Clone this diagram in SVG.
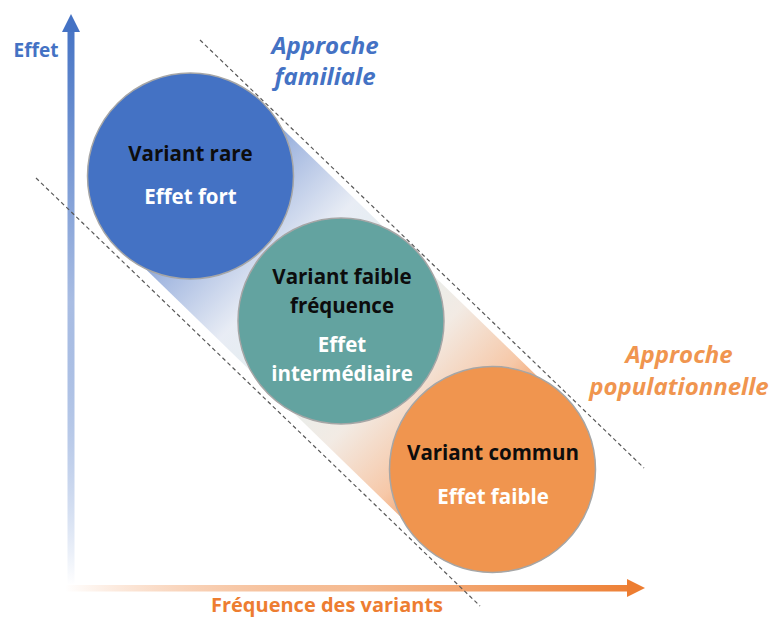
<svg xmlns="http://www.w3.org/2000/svg" width="773" height="621" viewBox="0 0 773 621">
<defs>
<linearGradient id="band" gradientUnits="userSpaceOnUse" x1="190.5" y1="176" x2="492" y2="469">
<stop offset="0" stop-color="#4472C4"/>
<stop offset="0.12" stop-color="#94ACDB"/>
<stop offset="0.32" stop-color="#E4E9F3"/>
<stop offset="0.5" stop-color="#DFECEB"/>
<stop offset="0.68" stop-color="#F0E7DF"/>
<stop offset="0.86" stop-color="#F5BE98"/>
<stop offset="1" stop-color="#ED7D31"/>
</linearGradient>
<linearGradient id="vaxis" gradientUnits="userSpaceOnUse" x1="0" y1="20" x2="0" y2="585">
<stop offset="0" stop-color="#4472C4"/>
<stop offset="0.5" stop-color="#A9BDE3"/>
<stop offset="1" stop-color="#4472C4" stop-opacity="0"/>
</linearGradient>
<linearGradient id="haxis" gradientUnits="userSpaceOnUse" x1="65" y1="0" x2="645" y2="0">
<stop offset="0" stop-color="#ED7D31" stop-opacity="0"/>
<stop offset="0.5" stop-color="#F5BB92"/>
<stop offset="1" stop-color="#ED7D31"/>
</linearGradient>
<style>
.circ{stroke:#A6A6A6;stroke-width:1.5}
.t{font-family:"Open Sans","Liberation Sans",sans-serif;font-weight:bold;text-anchor:middle}
.dark{fill:#0D0D0D;font-size:20.5px}
.light{fill:#FFFFFF;font-size:20.5px}
.lab{font-family:"Open Sans","Liberation Sans",sans-serif;font-weight:bold;font-style:italic;text-anchor:middle;font-size:24px}
.dash{stroke:#595959;stroke-width:1.2;stroke-dasharray:4 3;fill:none}
</style>
</defs>
<rect width="773" height="621" fill="#FFFFFF"/>
<g id="band-fill">
<polygon points="258.8,105.7 560.3,398.7 423.7,539.3 122.2,246.3" fill="url(#band)" opacity="0.85"/>
</g>
<g id="axes">
<rect x="67.5" y="30" width="7" height="555" fill="url(#vaxis)"/>
<polygon points="71,14 80,32 62,32" fill="#4472C4"/>
<rect x="65" y="585" width="564" height="6.5" fill="url(#haxis)"/>
<polygon points="645,588 627,579 627,597" fill="#ED7D31"/>
<text class="t" x="36" y="57" fill="#4472C4" font-size="19">Effet</text>
<text class="t" x="327" y="612" fill="#ED7D31" font-size="20">Fréquence des variants</text>
</g>
<g id="connectors">
<line class="dash" x1="200" y1="40" x2="644" y2="468"/>
<line class="dash" x1="36" y1="178" x2="480" y2="606"/>
</g>
<g id="label-familiale">
<text class="lab" x="325" y="54" fill="#4472C4">Approche</text>
<text class="lab" x="325" y="85" fill="#4472C4">familiale</text>
</g>
<g id="label-populationnelle">
<text class="lab" x="679" y="363" fill="#F0954F">Approche</text>
<text class="lab" x="679" y="395" fill="#F0954F">populationnelle</text>
</g>
<g id="node-rare">
<circle class="circ" cx="190.5" cy="176" r="103" fill="#4472C4"/>
<text class="t dark" x="190.5" y="161">Variant rare</text>
<text class="t light" x="190.5" y="204">Effet fort</text>
</g>
<g id="node-faible">
<circle class="circ" cx="341" cy="321" r="103" fill="#63A3A0"/>
<text class="t dark" x="342" y="284">Variant faible</text>
<text class="t dark" x="342" y="313">fréquence</text>
<text class="t light" x="342" y="352">Effet</text>
<text class="t light" x="342" y="381">intermédiaire</text>
</g>
<g id="node-commun">
<circle class="circ" cx="492.5" cy="469.5" r="103" fill="#F0954F"/>
<text class="t dark" x="493" y="460">Variant commun</text>
<text class="t light" x="493" y="504">Effet faible</text>
</g>
</svg>
